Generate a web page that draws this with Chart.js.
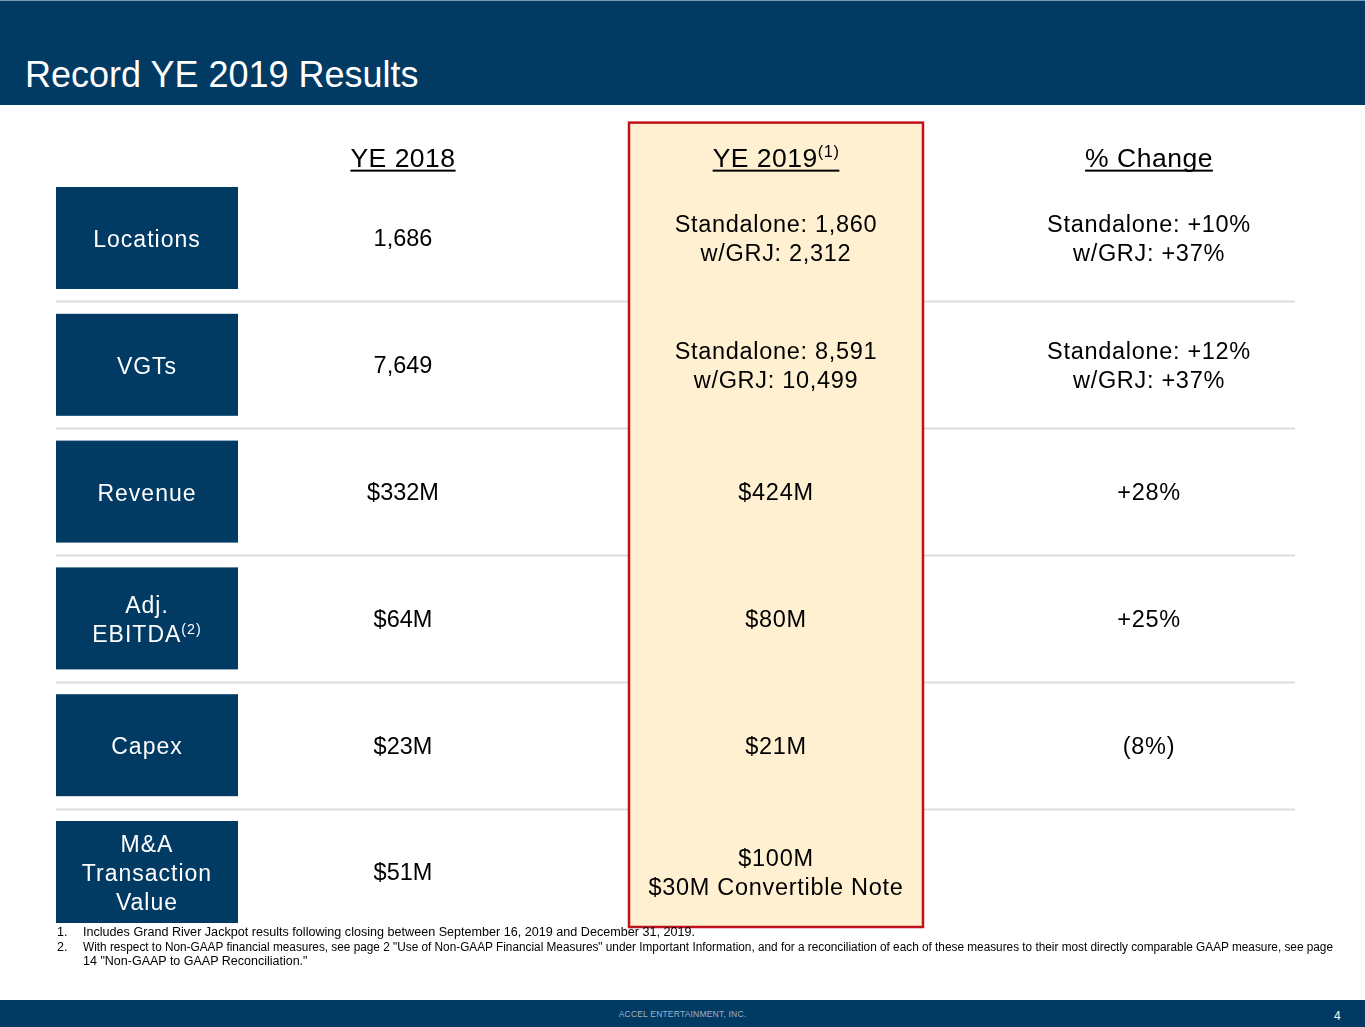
<!DOCTYPE html>
<html>
<head>
<meta charset="utf-8">
<script src="https://cdn.jsdelivr.net/npm/chart.js@4/dist/chart.umd.min.js"></script>
<style>
body{margin:0;width:1365px;height:1027px;position:relative;overflow:hidden;background:#fff;font-family:'Liberation Sans',Arial,sans-serif;}
#head{position:absolute;left:0;top:0;width:1365px;height:105px;background:#013a63;border-top:1px solid #7d9ab5;box-sizing:border-box;}
#title{position:absolute;left:25px;top:53px;color:#fff;font-size:36px;line-height:42px;white-space:nowrap;}
#chart{position:absolute;left:0;top:0;}
#notes{position:absolute;left:57px;top:925px;width:1300px;font-family:'Liberation Sans',Arial,sans-serif;font-size:12.5px;line-height:14.5px;color:#000;}
#notes .row{display:flex;}
#notes .n{width:26px;flex:none;}
#notes .t{white-space:nowrap;display:inline-block;transform-origin:0 50%;}
#foot{position:absolute;left:0;top:1000px;width:1365px;height:27px;background:#013a63;}
#foot .co{position:absolute;left:0;width:1365px;top:9px;text-align:center;font-size:8.5px;color:#9fb2c6;letter-spacing:0.2px;}
#foot .pg{position:absolute;left:1334px;top:9px;font-size:12px;color:#fff;}
</style>
</head>
<body>
<div id="head"><div id="title">Record YE 2019 Results</div></div>
<canvas id="chart" width="1365" height="1027"></canvas>
<div id="notes">
  <div class="row"><span class="n">1.</span><span class="t" data-w="612">Includes Grand River Jackpot results following closing between September 16, 2019 and December 31, 2019.</span></div>
  <div class="row"><span class="n">2.</span><span class="t" data-w="1250">With respect to Non-GAAP financial measures, see page 2 "Use of Non-GAAP Financial Measures" under Important Information, and for a reconciliation of each of these measures to their most directly comparable GAAP measure, see page</span></div>
  <div class="row"><span class="n"></span><span class="t">14 "Non-GAAP to GAAP Reconciliation."</span></div>
</div>
<div id="foot"><div class="co">ACCEL ENTERTAINMENT, INC.</div><div class="pg">4</div></div>
<script>
// column headers ('^' marks a superscript)
const columns = ['YE 2018', 'YE 2019^(1)', '% Change'];
const colKeys = ['YE 2018', 'YE 2019', '% Change'];

// row labels, one entry per line
const rowLabels = [['Locations'], ['VGTs'], ['Revenue'], ['Adj.', 'EBITDA^(2)'], ['Capex'], ['M&A', 'Transaction', 'Value']];
const rowKeys = ['Locations', 'VGTs', 'Revenue', 'Adj. EBITDA', 'Capex', 'M&A Transaction Value'];

// cell values
const ye2018 = [['1,686'], ['7,649'], ['$332M'], ['$64M'], ['$23M'], ['$51M']];
const ye2019 = [['Standalone: 1,860', 'w/GRJ: 2,312'], ['Standalone: 8,591', 'w/GRJ: 10,499'], ['$424M'], ['$80M'], ['$21M'], ['$100M', '$30M Convertible Note']];
const pctChange = [['Standalone: +10%', 'w/GRJ: +37%'], ['Standalone: +12%', 'w/GRJ: +37%'], ['+28%'], ['+25%'], ['(8%)'], []];

const cells = [ye2018, ye2019, pctChange];
const highlightCol = 'YE 2019';

const NAVY = '#013a63';
const FONT = "'Liberation Sans', Arial, sans-serif";

// footnote lines are squeezed to the width they have on the slide
document.querySelectorAll('#notes .t[data-w]').forEach(el => {
  const k = +el.dataset.w / el.getBoundingClientRect().width;
  el.style.transform = 'scaleX(' + k + ')';
});

// draws one line of text centred on cx, with optional ^superscript
function drawLine(ctx, text, cx, cy, size, color, spacing, underline) {
  const parts = text.split('^');
  const supSize = size * 0.62;
  ctx.letterSpacing = spacing + 'px';
  ctx.font = size + 'px ' + FONT;
  const w1 = ctx.measureText(parts[0]).width;
  let w2 = 0;
  if (parts[1]) { ctx.font = supSize + 'px ' + FONT; w2 = ctx.measureText(parts[1]).width; }
  const left = cx - (w1 + w2) / 2;
  const base = cy + size * 0.36;
  ctx.fillStyle = color;
  ctx.textAlign = 'left';
  ctx.textBaseline = 'alphabetic';
  ctx.font = size + 'px ' + FONT;
  ctx.fillText(parts[0], left, base);
  if (parts[1]) {
    ctx.font = supSize + 'px ' + FONT;
    ctx.fillText(parts[1], left + w1, base - size * 0.36);
  }
  if (underline) {
    ctx.fillRect(left, base + 3, w1 + w2, 2);
  }
}

function drawLines(ctx, lines, cx, cy, size, color, spacing, gap) {
  const start = cy - (lines.length - 1) * gap / 2;
  lines.forEach((t, i) => drawLine(ctx, t, cx, start + i * gap, size, color, spacing));
}

const tablePlugin = {
  id: 'table',
  beforeDatasetsDraw(chart) {
    const {ctx, chartArea, scales: {x, y}} = chart;
    ctx.save();
    // row separators
    ctx.strokeStyle = '#dcdcdc';
    ctx.lineWidth = 2;
    for (let i = 0; i < rowKeys.length - 1; i++) {
      const yy = Math.round((y.getPixelForValue(i) + y.getPixelForValue(i + 1)) / 2) + 0.5;
      ctx.beginPath();
      ctx.moveTo(56, yy);
      ctx.lineTo(1295, yy);
      ctx.stroke();
    }
    // highlighted column
    const hx = x.getPixelForValue(colKeys.indexOf(highlightCol));
    const top = chartArea.top - 52;
    const bottom = y.getPixelForValue(rowKeys.length - 1) + 55;
    ctx.fillStyle = '#fff0d1';
    ctx.fillRect(hx - 147, top, 294, bottom - top);
    ctx.strokeStyle = '#c0121c';
    ctx.lineWidth = 2.5;
    ctx.strokeRect(hx - 147, top, 294, bottom - top);
    // column headers
    columns.forEach((c, i) => {
      drawLine(ctx, c, x.getPixelForValue(i), chartArea.top - 17.5, 26.5, '#000', 0.5, true);
    });
    // row label boxes
    rowLabels.forEach((lines, i) => {
      const yc = y.getPixelForValue(i);
      ctx.fillStyle = NAVY;
      ctx.fillRect(56, yc - 51, 182, 102);
      drawLines(ctx, lines, 147, yc + 1, 23, '#fff', 1, 29);
    });
    ctx.restore();
  },
  afterDatasetsDraw(chart) {
    const {ctx} = chart;
    ctx.save();
    chart.data.datasets.forEach((ds, c) => {
      chart.getDatasetMeta(c).data.forEach((pt, r) => {
        drawLines(ctx, cells[c][r], pt.x, pt.y, 23.5, '#000', c === 0 ? 0 : 0.7, 28.5);
      });
    });
    ctx.restore();
  }
};

new Chart(document.getElementById('chart'), {
  type: 'scatter',
  data: {
    datasets: colKeys.map(col => ({
      label: col,
      data: rowKeys.map(row => ({x: col, y: row})),
      pointRadius: 0
    }))
  },
  options: {
    responsive: false,
    animation: false,
    devicePixelRatio: 1,
    layout: {padding: {left: 216.5, right: 29.5, top: 174.6, bottom: 91.6}},
    plugins: {legend: {display: false}, tooltip: {enabled: false}},
    scales: {
      x: {type: 'category', labels: colKeys, offset: true, display: false},
      y: {type: 'category', labels: rowKeys, offset: true, display: false}
    }
  },
  plugins: [tablePlugin]
});
</script>
</body>
</html>
